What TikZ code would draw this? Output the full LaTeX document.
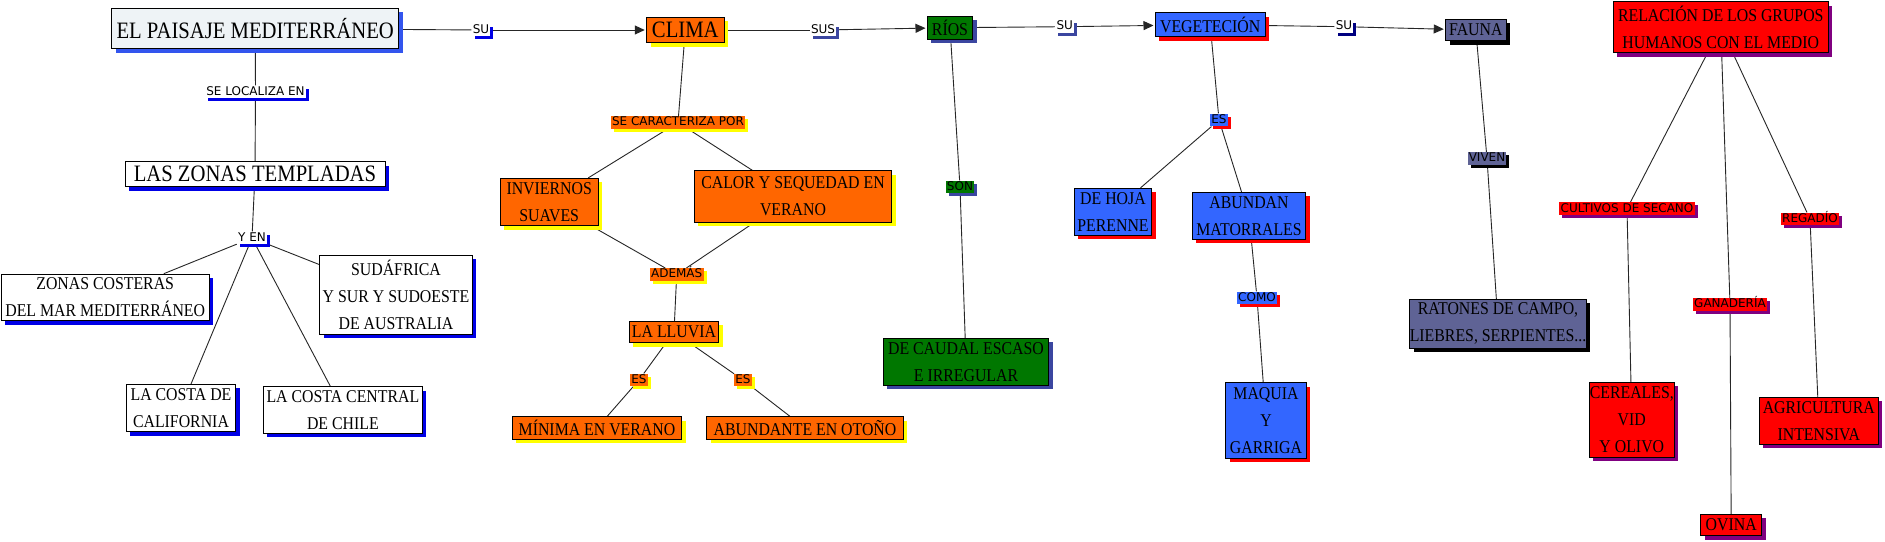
\documentclass[tikz,border=0pt]{standalone}
\usepackage{fontspec}
\newfontfamily\nodefont{Liberation Serif}[FakeStretch=0.88]
\newfontfamily\labfont{DejaVu Sans}
\usetikzlibrary{arrows.meta,shadows}
\pgfdeclarelayer{background}
\pgfsetlayers{background,main}
\definecolor{paisfill}{HTML}{EEF3F6}
\definecolor{shblueA}{HTML}{3355EE}
\definecolor{shblue}{HTML}{0000E6}
\definecolor{orng}{HTML}{FF6600}
\definecolor{yel}{HTML}{FFFF00}
\definecolor{grn}{HTML}{007700}
\definecolor{indig}{HTML}{3B46A0}
\definecolor{navy}{HTML}{000080}
\definecolor{vblue}{HTML}{3366FF}
\definecolor{rd}{HTML}{FF0000}
\definecolor{fauna}{HTML}{5F6395}
\definecolor{purp}{HTML}{800080}
\begin{document}
\begin{tikzpicture}[x=1pt,y=-1pt,
  concept/.style={draw=black, line width=0.8pt, align=center, inner sep=0pt,
    font=\nodefont\fontsize{18}{27}\selectfont, text=black},
  big/.style={font=\nodefont\fontsize{23.5}{28}\selectfont},
  sh/.style={drop shadow={shadow xshift=4pt,shadow yshift=-4pt,fill=#1,opacity=1}},
  lab/.style={inner xsep=1.2pt, inner ysep=0.6pt, font=\labfont\fontsize{12}{14}\selectfont,
    text height=9pt, text depth=2.5pt, text=black},
  lsh/.style={drop shadow={shadow xshift=3pt,shadow yshift=-3pt,fill=#1,opacity=1}},
  conn/.style={draw=black!85, line width=0.9pt},
  arr/.style={conn, -{Triangle[length=10pt,width=9pt]}, shorten >=1.5pt},
  wbox/.style={concept, fill=white, sh=shblue},
  obox/.style={concept, fill=orng, sh=yel},
  gbox/.style={concept, fill=grn, sh=indig},
  bbox/.style={concept, fill=vblue, sh=rd},
  fbox/.style={concept, fill=fauna, sh=black},
  rbox/.style={concept, fill=rd, sh=purp},
  sz/.style 2 args={minimum width=#1pt, minimum height=#2pt}
]
\useasboundingbox (0,0) rectangle (1885,541);

% concepts
\node[concept,big,fill=paisfill,sh=shblueA,sz={287}{40.4}] (paisaje) at (255.2,28.5) {EL PAISAJE MEDITERRÁNEO};
\node[wbox,big,sz={260}{25}] (zonas) at (255,174.2) {LAS ZONAS TEMPLADAS};
\node[wbox,sz={208.4}{46.7}] (costeras) at (105.2,297.4) {ZONAS COSTERAS\\DEL MAR MEDITERRÁNEO};
\node[wbox,sz={152.7}{79}] (sudafrica) at (396,294.8) {SUDÁFRICA\\Y SUR Y SUDOESTE\\DE AUSTRALIA};
\node[wbox,sz={109.4}{47.4}] (california) at (181,408) {LA COSTA DE\\CALIFORNIA};
\node[wbox,sz={158.9}{46.6}] (chile) at (342.9,410) {LA COSTA CENTRAL\\DE CHILE};

\node[obox,big,sz={77.3}{25.4}] (clima) at (685.3,30) {CLIMA};
\node[obox,sz={98.3}{47.4}] (invier) at (549.2,202) {INVIERNOS\\SUAVES};
\node[obox,sz={197.4}{51.6}] (calor) at (793,196.5) {CALOR Y SEQUEDAD EN\\VERANO};
\node[obox,sz={89.4}{21.4}] (lluvia) at (674,332) {LA LLUVIA};
\node[obox,sz={169.4}{22.6}] (minima) at (597,428) {MÍNIMA EN VERANO};
\node[obox,sz={196.6}{22.6}] (abund) at (805,428) {ABUNDANTE EN OTOÑO};

\node[gbox,sz={45.2}{23.3}] (rios) at (950,27.7) {RÍOS};
\node[gbox,sz={165.5}{46.7}] (caudal) at (966,361.7) {DE CAUDAL ESCASO\\E IRREGULAR};

\node[bbox,sz={109.6}{24}] (veget) at (1210.2,24.7) {VEGETECIÓN};
\node[bbox,sz={77.2}{46.7}] (dehoja) at (1113,211.7) {DE HOJA\\PERENNE};
\node[bbox,sz={113.3}{47}] (abundan) at (1249,215.8) {ABUNDAN\\MATORRALES};
\node[bbox,sz={80.7}{75.3}] (maquia) at (1266,420.3) {MAQUIA\\Y\\GARRIGA};

\node[fbox,sz={60.3}{21.4}] (fauna) at (1475.8,30) {FAUNA};
\node[fbox,sz={172.6}{49}] (ratones) at (1498,323.8) {RATONES DE CAMPO,\\LIEBRES, SERPIENTES...};

\node[rbox,sz={215}{51}] (relacion) at (1720.8,27.2) {RELACIÓN DE LOS GRUPOS\\HUMANOS CON EL MEDIO};
\node[rbox,sz={85}{75}] (cereales) at (1631.8,419.8) {CEREALES,\\VID\\Y OLIVO};
\node[rbox,sz={61}{21.4}] (ovina) at (1731.2,525) {OVINA};
\node[rbox,sz={119}{46.7}] (agric) at (1818.8,420.7) {AGRICULTURA\\INTENSIVA};

% linking phrases
\node[lab,fill=white,lsh=shblue] (su1) at (481,30) {SU};
\node[lab,fill=white,lsh=shblue] (seloc) at (255.5,92) {SE LOCALIZA EN};
\node[lab,fill=white,lsh=shblue] (yen) at (252,238) {Y EN};
\node[lab,fill=white,lsh=indig] (sus) at (823,30) {SUS};
\node[lab,fill=orng,lsh=yel] (secar) at (678,122.5) {SE CARACTERIZA POR};
\node[lab,fill=orng,lsh=yel] (ademas) at (676.7,274.5) {ADEMÁS};
\node[lab,fill=orng,lsh=yel] (es1) at (639,380) {ES};
\node[lab,fill=orng,lsh=yel] (es2) at (743,380) {ES};
\node[lab,fill=white,lsh=indig] (su2) at (1064.7,26.7) {SU};
\node[lab,fill=grn,lsh=indig] (son) at (960,187) {SON};
\node[lab,fill=vblue,lsh=rd] (es3) at (1219,120) {ES};
\node[lab,fill=vblue,lsh=rd] (como) at (1257,298) {COMO};
\node[lab,fill=white,lsh=navy] (su3) at (1344,26.7) {SU};
\node[lab,fill=fauna,lsh=black] (viven) at (1487,158.7) {VIVEN};
\node[lab,fill=rd,lsh=purp] (cultivos) at (1627,208.8) {CULTIVOS DE SECANO};
\node[lab,fill=rd,lsh=purp] (ganaderia) at (1730,304.3) {GANADERÍA};
\node[lab,fill=rd,lsh=purp] (regadio) at (1810,219) {REGADÍO};

\begin{pgfonlayer}{background}
\fill[white] (0,0) rectangle (1885,541);
\draw[conn] (paisaje) -- (su1);
\draw[arr] (su1) -- (clima);
\draw[conn] (paisaje) -- (seloc);
\draw[conn] (seloc) -- (zonas);
\draw[conn] (zonas) -- (yen);
\draw[conn] (yen) -- (costeras);
\draw[conn] (yen) -- (sudafrica);
\draw[conn] (yen) -- (california);
\draw[conn] (yen) -- (chile);

\draw[conn] (clima) -- (sus);
\draw[arr] (sus) -- (rios);
\draw[conn] (clima) -- (secar);
\draw[conn] (secar) -- (invier);
\draw[conn] (secar) -- (calor);
\draw[conn] (invier) -- (ademas);
\draw[conn] (calor) -- (ademas);
\draw[conn] (ademas) -- (lluvia);
\draw[conn] (lluvia) -- (es1);
\draw[conn] (es1) -- (minima);
\draw[conn] (lluvia) -- (es2);
\draw[conn] (es2) -- (abund);

\draw[conn] (rios) -- (su2);
\draw[arr] (su2) -- (veget);
\draw[conn] (rios) -- (son);
\draw[conn] (son) -- (caudal);

\draw[conn] (veget) -- (su3);
\draw[arr] (su3) -- (fauna);
\draw[conn] (veget) -- (es3);
\draw[conn] (es3) -- (dehoja);
\draw[conn] (es3) -- (abundan);
\draw[conn] (abundan) -- (como);
\draw[conn] (como) -- (maquia);

\draw[conn] (fauna) -- (viven);
\draw[conn] (viven) -- (ratones);

\draw[conn] (relacion) -- (cultivos);
\draw[conn] (cultivos) -- (cereales);
\draw[conn] (relacion) -- (ganaderia);
\draw[conn] (ganaderia) -- (ovina);
\draw[conn] (relacion) -- (regadio);
\draw[conn] (regadio) -- (agric);
\end{pgfonlayer}
\end{tikzpicture}
\end{document}
